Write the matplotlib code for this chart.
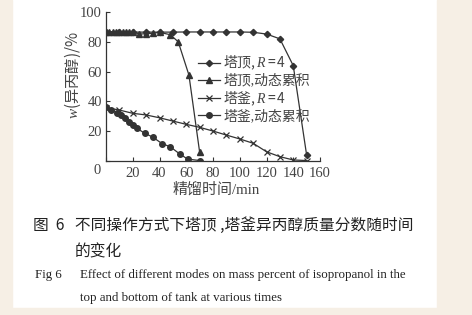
import matplotlib
matplotlib.use("Agg")
import matplotlib.pyplot as plt
from matplotlib.patches import Rectangle

# ---- data ----
t_top_R4 = [0, 10, 20, 30, 40, 50, 60, 70, 80, 90, 100, 110, 120, 130, 140, 150]
w_top_R4 = [86.5, 86.5, 86.5, 86.5, 86.5, 86.5, 86.6, 86.6, 86.6, 86.6, 86.6, 86.4, 85.2, 82.0, 64.0, 4.0]

t_top_dyn = [0, 2.5, 5, 7.5, 10, 12.5, 15, 17.5, 20, 25, 30, 35, 40, 48, 54, 62, 70]
w_top_dyn = [86.8, 86.8, 86.8, 86.8, 86.8, 86.8, 86.8, 86.8, 86.6, 85.3, 85.3, 85.8, 86.3, 84.8, 80.0, 57.7, 6.0]

t_bot_R4 = [0, 10, 20, 30, 40, 50, 60, 70, 80, 90, 100, 110, 120, 130, 140, 150]
w_bot_R4 = [35.8, 34.2, 32.0, 30.9, 29.0, 26.8, 24.6, 22.6, 20.1, 17.4, 14.8, 11.9, 6.2, 2.9, 0.7, 0.3]

t_bot_dyn = [0, 4, 8, 11, 14, 17, 20, 23, 29, 35, 42, 48, 55, 61, 70]
w_bot_dyn = [36.0, 34.2, 32.4, 30.8, 28.7, 26.4, 24.2, 22.0, 18.6, 16.0, 11.6, 9.6, 4.8, 1.3, 0.3]

labels = [r"$\mathrm{塔顶,}R\mathrm{=4}$", "塔顶,动态累积", r"$\mathrm{塔釜,}R\mathrm{=4}$", "塔釜,动态累积"]
xticks = [0, 20, 40, 60, 80, 100, 120, 140, 160]
yticks = [0, 20, 40, 60, 80, 100]
ylabel = r"$w\mathrm{(异丙醇)/\%}$"
xlabel = "精馏时间/min"

caption_cn_1 = "图  6   不同操作方式下塔顶 ,塔釜异丙醇质量分数随时间"
caption_cn_2 = "的变化"
caption_en_1a = "Fig 6"
caption_en_1b = "Effect of different modes on mass percent of isopropanol in the"
caption_en_2 = "top and bottom of tank at various times"

# ---- style ----
plt.rcParams['font.family'] = ['Liberation Serif', 'Noto Sans CJK SC', 'DejaVu Sans']
plt.rcParams['mathtext.fontset'] = 'custom'
plt.rcParams['mathtext.rm'] = 'Noto Sans CJK SC'
plt.rcParams['mathtext.it'] = 'Liberation Serif:italic'

W, H = 472, 315
fig = plt.figure(figsize=(W / 100, H / 100), dpi=100, facecolor='white')

beige = '#f6efe5'
fig.patches.append(Rectangle((0, 0), 12 / W, 1, transform=fig.transFigure, color=beige, zorder=0))
fig.patches.append(Rectangle((437 / W, 0), 1 - 437 / W, 1, transform=fig.transFigure, color=beige, zorder=0))
fig.patches.append(Rectangle((0, 0), 1, 7 / H, transform=fig.transFigure, color=beige, zorder=0))

ax_l, ax_r, ax_t, ax_b = 106, 320, 12, 161
ax = fig.add_axes([ax_l / W, 1 - ax_b / H, (ax_r - ax_l) / W, (ax_b - ax_t) / H])
ax.set_facecolor('none')

lc = '#333333'
ax.plot(t_top_R4, w_top_R4, color=lc, lw=0.9, marker='D', ms=3.2, label=labels[0])
ax.plot(t_top_dyn, w_top_dyn, color=lc, lw=0.9, marker='^', ms=4.5, label=labels[1])
ax.plot(t_bot_R4, w_bot_R4, color=lc, lw=0.9, marker='x', ms=4.5, mew=0.9, label=labels[2])
ax.plot(t_bot_dyn, w_bot_dyn, color=lc, lw=0.9, marker='o', ms=4, label=labels[3])

ax.set_xlim(0, 160)
ax.set_ylim(0, 100)
ax.spines['top'].set_visible(False)
ax.spines['right'].set_visible(False)
for s in ['left', 'bottom']:
    ax.spines[s].set_color(lc)
    ax.spines[s].set_linewidth(0.9)
ax.set_xticks(xticks)
ax.set_xticklabels([''] + [str(v) for v in xticks[1:]])
ax.set_yticks(yticks)
ax.set_yticklabels([''] + [str(v) for v in yticks[1:]])
ax.tick_params(direction='in', length=3, width=0.8, colors=lc, labelsize=10.5, pad=3)
ax.tick_params(axis='x', pad=4)
for lab in ax.get_xticklabels() + ax.get_yticklabels():
    lab.set_color('#444444')

ax.text(-0.042, -0.067, '0', transform=ax.transAxes, ha='center', va='center',
        fontsize=10.5, color='#444444')

ax.text(-0.154, 0.577, ylabel, transform=ax.transAxes, rotation=90,
        ha='center', va='center', fontsize=11, color='#444444')
ax.text(0.515, -0.19, xlabel, transform=ax.transAxes,
        ha='center', va='center', fontsize=10.8, color='#444444')

leg = ax.legend(loc='upper left', bbox_to_anchor=(0.43, 0.72), frameon=False,
                fontsize=10, handlelength=1.6, handletextpad=0.2, labelspacing=0.12,
                borderpad=0, borderaxespad=0)
for txt in leg.get_texts():
    txt.set_color('#444444')

# ---- caption ----
def fx(px):
    return px / W

def fy(py):
    return 1 - py / H

fig.text(fx(33), fy(225), caption_cn_1, ha='left', va='center', fontsize=11.3, color='#222222',
         family=['Noto Sans CJK SC', 'DejaVu Sans'])
fig.text(fx(75), fy(252), caption_cn_2, ha='left', va='center', fontsize=11.3, color='#222222',
         family=['Noto Sans CJK SC', 'DejaVu Sans'])
fig.text(fx(35), fy(275), caption_en_1a, ha='left', va='center', fontsize=9.3, color='#222222')
fig.text(fx(80), fy(275), caption_en_1b, ha='left', va='center', fontsize=9.3, color='#222222')
fig.text(fx(80), fy(298), caption_en_2, ha='left', va='center', fontsize=9.3, color='#222222')

fig.savefig('out.png', dpi=100, facecolor=fig.get_facecolor())
